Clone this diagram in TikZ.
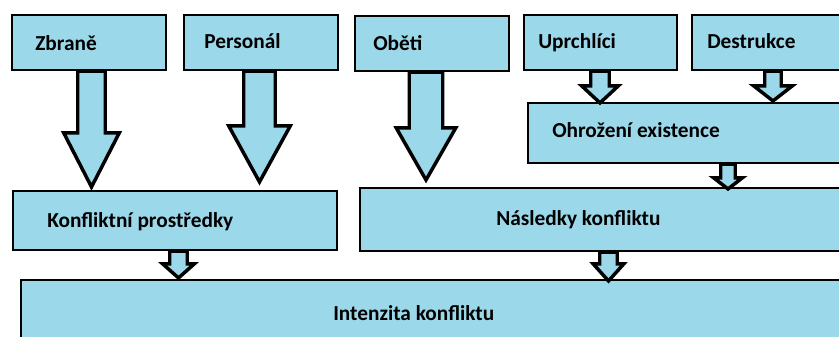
\documentclass[tikz,border=0pt]{standalone}
\usepackage{fontspec}
\setmainfont{Carlito}
\usetikzlibrary{calc, fit}
\definecolor{boxblue}{RGB}{155,216,234}
\tikzset{
  box/.style={
    draw=black,
    line width=1.6pt,
    fill=boxblue,
    inner sep=0pt,
  },
  lbl/.style={
    anchor=base west,
    inner sep=0pt,
    font=\bfseries\fontsize{16}{19}\selectfont,
  },
  fat arrow/.style={
    draw=black,
    line width=2.6pt,
    fill=boxblue,
    miter limit=10,
  },
}
% from, to, x, tip shift, shaft half, head half, head length
\newcommand{\fatarrow}[7]{%
  \draw[fat arrow] let \p1=(#1.south), \p2=(#2.north), \p3=(#3,#4), \p4=(#5,#7), \p5=(#6,0) in
    (\x3-\x4,\y1) -- (\x3-\x4,\y2+\y3-\y4) -- (\x3-\x5,\y2+\y3-\y4) -- (\x3,\y2+\y3)
    -- (\x3+\x5,\y2+\y3-\y4) -- (\x3+\x4,\y2+\y3-\y4) -- (\x3+\x4,\y1) -- cycle;}

\begin{document}
\begin{tikzpicture}[x=0.75pt, y=-0.75pt]
        \useasboundingbox (0,0) rectangle (839,336);
        \clip (0,0) rectangle (839,336);

        \node[box, fit={(12,15) (166,70)}]   (zb) {};
        \node[box, fit={(184,15) (338,70)}]  (pe) {};
        \node[box, fit={(355,16) (509,71)}]  (ob) {};
        \node[box, fit={(524,15) (677,70)}]  (up) {};
        \node[box, fit={(692,15) (870,70)}]  (de) {};
        \node[box, fit={(528,103) (870,163)}] (oh) {};
        \node[box, fit={(13,191) (337,250)}] (kp) {};
        \node[box, fit={(360,188) (870,251)}] (nk) {};
        \node[box, fit={(21,280) (870,370)}] (ik) {};

        \node[lbl] (zb-l) at ( 35, 50) {Zbraně};
        \node[lbl] (pe-l) at (204, 48) {Personál};
        \node[lbl] (ob-l) at (373, 50) {Oběti};
        \node[lbl] (up-l) at (538, 48) {Uprchlíci};
        \node[lbl] (de-l) at (707, 48) {Destrukce};
        \node[lbl] (oh-l) at (552,137) {Ohrožení existence};
        \node[lbl] (kp-l) at ( 47,227) {Konfliktní prostředky};
        \node[lbl] (nk-l) at (496,225) {Následky konfliktu};
        \node[lbl] (ik-l) at (333,320) {Intenzita konfliktu};

        \fatarrow{zb}{kp}{91.5}{-3}{13.75}{27.75}{54}
        \fatarrow{pe}{kp}{259.5}{-8}{15.75}{30.75}{56}
        \fatarrow{ob}{nk}{426}{-7}{16.75}{29.75}{52}

        \fatarrow{up}{oh}{600}{1}{9.25}{18.25}{17}
        \fatarrow{de}{oh}{773}{-1}{8.25}{19.25}{15}
        \fatarrow{oh}{nk}{728}{2}{7.25}{14.25}{11}

        \fatarrow{kp}{ik}{178.5}{-1}{8.75}{15.75}{14}
        \fatarrow{nk}{ik}{608.5}{2}{8.75}{15.25}{17}
      \end{tikzpicture}
\end{document}
